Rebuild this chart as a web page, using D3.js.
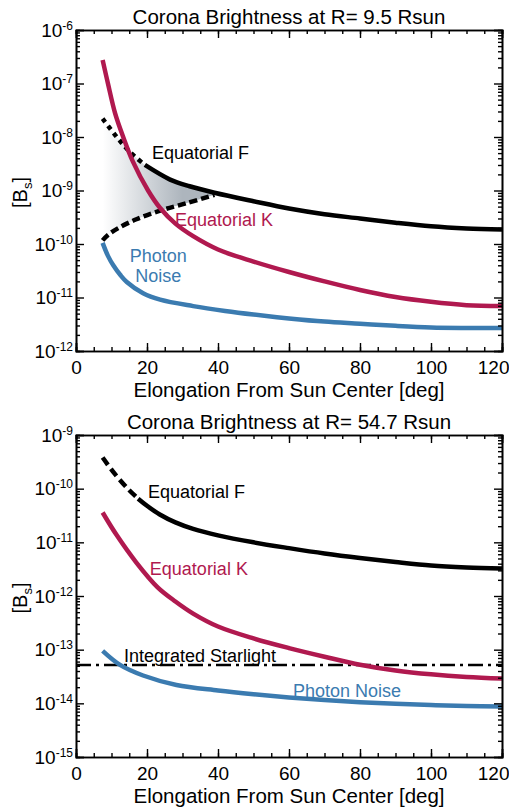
<!DOCTYPE html>
<html>
<head>
<meta charset="utf-8">
<script src="https://cdn.jsdelivr.net/npm/d3@7"></script>
<style>
  body { margin: 0; background: #fff; }
  svg { font-family: "Liberation Sans", Arial, sans-serif; }
</style>
</head>
<body>
<div id="chart"></div>
<script>
// canvas
var svgWidth = 509;
var svgHeight = 808;

// elongation ticks (deg)
var elongMajor = [0, 20, 40, 60, 80, 100, 120];
var elongMinor = d3.range(0, 121, 5);

// ---- R = 9.5 Rsun ----
var r9FX = [7.5, 11.5, 15, 19.4, 26.5, 32, 39, 50, 60, 70, 80, 90, 100, 110, 120];
var r9FY = [2.2e-8, 1.0e-8, 5.4e-9, 3.0e-9, 1.6e-9, 1.2e-9, 9.1e-10, 6.3e-10, 4.6e-10, 3.6e-10, 3.0e-10, 2.5e-10, 2.14e-10, 1.95e-10, 1.86e-10];
var r9FDotEnd = 19.4;
var r9LowX = [7.5, 9, 12, 17, 23.7, 31, 39];
var r9LowY = [1.17e-10, 1.48e-10, 2.0e-10, 2.9e-10, 4.2e-10, 5.75e-10, 8.3e-10];
var r9KX = [7.5, 9, 11, 13.3, 16, 20.3, 23.7, 28, 33, 40, 50, 60, 70, 80, 90, 100, 110, 120];
var r9KY = [2.75e-7, 1.0e-7, 2.8e-8, 1.0e-8, 3.5e-9, 1.0e-9, 4.7e-10, 2.4e-10, 1.4e-10, 7.9e-11, 4.7e-11, 3.0e-11, 2.0e-11, 1.38e-11, 1.02e-11, 8.3e-12, 7.2e-12, 6.9e-12];
var r9NX = [7.5, 9, 10.5, 12.5, 14.3, 18.9, 23.7, 33, 42, 50, 60, 70, 80, 90, 100, 110, 120];
var r9NY = [1.05e-10, 6.0e-11, 4.0e-11, 2.63e-11, 1.95e-11, 1.2e-11, 9.1e-12, 6.9e-12, 5.6e-12, 4.8e-12, 4.07e-12, 3.55e-12, 3.24e-12, 2.95e-12, 2.75e-12, 2.7e-12, 2.7e-12];

// ---- R = 54.7 Rsun ----
var r55FX = [7.5, 11, 14.7, 17.5, 20, 23.6, 28, 33, 40, 50, 60, 70, 80, 90, 100, 110, 120];
var r55FY = [3.8e-10, 1.86e-10, 9.8e-11, 6.5e-11, 4.8e-11, 3.3e-11, 2.35e-11, 1.78e-11, 1.35e-11, 1.0e-11, 7.8e-12, 6.2e-12, 5.1e-12, 4.3e-12, 3.7e-12, 3.4e-12, 3.24e-12];
var r55FDotEnd = 17.5;
var r55KX = [7.5, 11.4, 17, 23, 28, 33, 40, 50, 60, 70, 80, 90, 100, 110, 120];
var r55KY = [3.6e-11, 1.38e-11, 4.2e-12, 1.45e-12, 7.9e-13, 4.7e-13, 2.7e-13, 1.62e-13, 1.07e-13, 7.4e-14, 5.25e-14, 4.1e-14, 3.47e-14, 3.1e-14, 2.9e-14];
var r55NX = [7.5, 12.4, 18.9, 28.3, 40, 50, 60, 70, 80, 90, 100, 110, 120];
var r55NY = [9.5e-14, 5.2e-14, 3.3e-14, 2.2e-14, 1.74e-14, 1.48e-14, 1.29e-14, 1.15e-14, 1.05e-14, 9.8e-15, 9.3e-15, 8.9e-15, 8.7e-15];
var r55Starlight = 5.2e-14;

var kColor = '#b0194f';
var nColor = '#3b7bb0';

var zip = (xs, ys) => xs.map((x, i) => ({x: x, y: ys[i]}));

var svg = d3.select('#chart').append('svg')
    .attr('width', svgWidth)
    .attr('height', svgHeight);

var defs = svg.append('defs');

function drawPanel(p) {
    var x = d3.scaleLinear().domain([0, 120]).range([76, 502]);
    var y = d3.scaleLog().domain(p.yDomain).range([p.bottom, p.top]);
    var lo = Math.round(Math.log10(p.yDomain[0]));
    var hi = Math.round(Math.log10(p.yDomain[1]));
    var yMajor = d3.range(lo, hi + 1).map(e => Math.pow(10, e));
    var yMinor = [];
    d3.range(lo, hi).forEach(e => { for (var m = 2; m <= 9; m++) yMinor.push(m * Math.pow(10, e)); });

    var g = svg.append('g');
    var line = d3.line().x(d => x(d.x)).y(d => y(d.y)).curve(d3.curveCatmullRom.alpha(0.5));

    // shaded wedge (top panel only)
    if (p.low) {
        var gid = 'shade' + p.id;
        var grad = defs.append('linearGradient').attr('id', gid)
            .attr('gradientUnits', 'userSpaceOnUse')
            .attr('x1', x(7.5)).attr('x2', x(30)).attr('y1', 0).attr('y2', 0);
        grad.append('stop').attr('offset', 0).attr('stop-color', '#ffffff');
        grad.append('stop').attr('offset', 1).attr('stop-color', '#adb5bd');
        var upper = p.F.filter(d => d.x <= p.low[p.low.length - 1].x);
        var lower = p.low.slice().reverse();
        var path = line(upper) + 'L' + line(lower).slice(1) + 'Z';
        g.append('path').attr('d', path).attr('fill', `url(#${gid})`);
    }

    // F corona: dotted then solid
    g.append('path').attr('d', line(p.F.filter(d => d.x <= p.dotEnd)))
        .attr('fill', 'none').attr('stroke', '#000').attr('stroke-width', 4.5)
        .attr('stroke-dasharray', p.dotDash);
    g.append('path').attr('d', line(p.F.filter(d => d.x >= p.dotEnd)))
        .attr('fill', 'none').attr('stroke', '#000').attr('stroke-width', 4.5);

    if (p.low) {
        g.append('path').attr('d', line(p.low))
            .attr('fill', 'none').attr('stroke', '#000').attr('stroke-width', 4.5)
            .attr('stroke-dasharray', '8,4');
    }

    if (p.star) {
        g.append('line')
            .attr('x1', x(0)).attr('x2', x(120))
            .attr('y1', y(p.star)).attr('y2', y(p.star))
            .attr('stroke', '#000').attr('stroke-width', 2.5)
            .attr('stroke-dasharray', '15,5,3,5');
    }

    g.append('path').attr('d', line(p.K))
        .attr('fill', 'none').attr('stroke', kColor).attr('stroke-width', 4.5);
    g.append('path').attr('d', line(p.N))
        .attr('fill', 'none').attr('stroke', nColor).attr('stroke-width', 4.5);

    // axes (ticks point inward on all four sides)
    var axG = g.append('g').attr('class', 'axes');
    axG.append('g').attr('transform', `translate(0,${p.bottom})`)
        .call(d3.axisBottom(x).tickValues(elongMinor).tickSize(-4).tickFormat(''));
    var xl = axG.append('g').attr('transform', `translate(0,${p.bottom})`)
        .call(d3.axisBottom(x).tickValues(elongMajor).tickSize(-8).tickPadding(10).tickFormat(d3.format('d')));
    axG.append('g').attr('transform', `translate(0,${p.top})`)
        .call(d3.axisTop(x).tickValues(elongMinor).tickSize(-4).tickFormat(''));
    axG.append('g').attr('transform', `translate(0,${p.top})`)
        .call(d3.axisTop(x).tickValues(elongMajor).tickSize(-8).tickFormat(''));

    axG.append('g').attr('transform', 'translate(76,0)')
        .call(d3.axisLeft(y).tickValues(yMinor).tickSize(-4).tickFormat(''));
    var yl = axG.append('g').attr('transform', 'translate(76,0)')
        .call(d3.axisLeft(y).tickValues(yMajor).tickSize(-8).tickPadding(3).tickFormat(''));
    axG.append('g').attr('transform', 'translate(502,0)')
        .call(d3.axisRight(y).tickValues(yMinor).tickSize(-4).tickFormat(''));
    axG.append('g').attr('transform', 'translate(502,0)')
        .call(d3.axisRight(y).tickValues(yMajor).tickSize(-8).tickFormat(''));

    axG.selectAll('.domain').attr('stroke', '#000').attr('stroke-width', 1.6);
    axG.selectAll('.tick line').attr('stroke', '#000').attr('stroke-width', 1.4);
    axG.selectAll('.tick text').attr('fill', '#000').style('font-size', '19px')
        .style('font-family', '"Liberation Sans", Arial, sans-serif');

    // last label sits against the right edge of the figure
    xl.selectAll('.tick text').filter(d => d === 120)
        .attr('text-anchor', 'end').attr('x', 7);

    // power-of-ten labels
    yl.selectAll('.tick text').each(function (d) {
        var t = d3.select(this);
        t.append('tspan').text('10');
        t.append('tspan').attr('dy', -7).style('font-size', '12px')
            .text(Math.round(Math.log10(d)));
    });

    // title and axis titles
    g.append('text').attr('x', 289).attr('y', p.titleY)
        .attr('text-anchor', 'middle').style('font-size', '20.5px').text(p.title);
    g.append('text').attr('x', 289).attr('y', p.bottom + 46)
        .attr('text-anchor', 'middle').style('font-size', '20.5px')
        .text('Elongation From Sun Center [deg]');
    var yt = g.append('text')
        .attr('transform', `translate(27,${(p.top + p.bottom) / 2 + 2}) rotate(-90)`)
        .attr('text-anchor', 'middle').style('font-size', '20px');
    yt.append('tspan').text('[B');
    yt.append('tspan').attr('dy', 5).style('font-size', '13px').text('s');
    yt.append('tspan').attr('dy', -5).text(']');

    // curve labels
    p.labels.forEach(l => {
        var t = g.append('text').attr('x', x(l.x)).attr('y', y(l.y))
            .attr('text-anchor', l.anchor || 'start')
            .attr('fill', l.color).style('font-size', '18px');
        l.text.split('\n').forEach((s, i) => {
            t.append('tspan').attr('x', x(l.x)).attr('dy', i ? 20 : 0).text(s);
        });
    });
}

drawPanel({
    id: 'a', top: 30, bottom: 351, titleY: 24,
    yDomain: [1e-12, 1e-6],
    title: 'Corona Brightness at R= 9.5 Rsun',
    F: zip(r9FX, r9FY), dotEnd: r9FDotEnd, dotDash: '4.5,4.5',
    low: zip(r9LowX, r9LowY),
    K: zip(r9KX, r9KY),
    N: zip(r9NX, r9NY),
    labels: [
        {text: 'Equatorial F', x: 21.4, y: 3.9e-9, color: '#000'},
        {text: 'Equatorial K', x: 27.9, y: 2.2e-10, color: kColor},
        {text: 'Photon\nNoise', x: 23.2, y: 4.6e-11, color: nColor, anchor: 'middle'}
    ]
});

drawPanel({
    id: 'b', top: 435, bottom: 757, titleY: 429,
    yDomain: [1e-15, 1e-9],
    title: 'Corona Brightness at R= 54.7 Rsun',
    F: zip(r55FX, r55FY), dotEnd: r55FDotEnd, dotDash: '9,5',
    K: zip(r55KX, r55KY),
    N: zip(r55NX, r55NY),
    star: r55Starlight,
    labels: [
        {text: 'Equatorial F', x: 20.3, y: 6.8e-11, color: '#000'},
        {text: 'Equatorial K', x: 20.8, y: 2.45e-12, color: kColor},
        {text: 'Integrated Starlight', x: 13.5, y: 5.9e-14, color: '#000'},
        {text: 'Photon Noise', x: 61.1, y: 1.3e-14, color: nColor}
    ]
});
</script>
</body>
</html>
